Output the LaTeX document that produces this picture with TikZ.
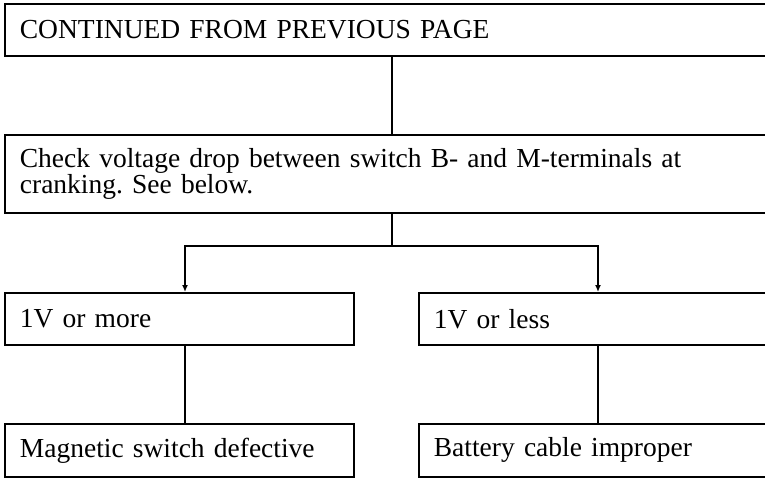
\documentclass[tikz,border=0pt]{standalone}
\usepackage{fontspec}
\setmainfont{Liberation Serif}
\usetikzlibrary{arrows.meta}
\begin{document}
\begin{tikzpicture}[x=1pt,y=-1pt,
  every node/.style={font=\fontsize{27.5}{25}\selectfont\frenchspacing},
  box/.style={draw,line width=1.8pt,anchor=north west,align=left,
    inner xsep=15pt,inner ysep=0pt},
  link/.style={line width=1.6pt},
  arrow/.style={link,-{Latex[length=7pt,width=6pt]}}]
  \clip (0,0) rectangle (765,477);
  \fill[white] (0,0) rectangle (765,477);

  % boxes (the wide ones run past the page edge)
  \node[box,text width=766pt,minimum height=52pt] (top) at (4,3)
    {CONTINUED FROM PREVIOUS PAGE};
  \node[box,text width=766pt,minimum height=78pt] (check) at (4,134)
    {Check voltage drop between switch B- and M-terminals at\\cranking. See below.};
  \node[box,text width=319pt,minimum height=52pt] (more) at (4,292)
    {1V or more};
  \node[box,text width=360pt,minimum height=52pt] (less) at (418,292)
    {1V or less};
  \node[box,text width=319pt,minimum height=53pt] (mag) at (4,423)
    {Magnetic switch defective};
  \node[box,text width=360pt,minimum height=53pt] (bat) at (418,423)
    {Battery cable improper};

  % connector columns
  \coordinate (spine) at (392,0);
  \coordinate (lx) at (185,0);
  \coordinate (rx) at (598,0);
  \coordinate (split) at (392,246);

  \draw[link] (top.south -| spine) -- (check.north -| spine);
  \draw[link] (check.south -| spine) -- (split);
  \draw[arrow] (split) -| (more.north -| lx);
  \draw[arrow] (split) -| (less.north -| rx);
  \draw[link] (more.south -| lx) -- (mag.north -| lx);
  \draw[link] (less.south -| rx) -- (bat.north -| rx);
\end{tikzpicture}
\end{document}
